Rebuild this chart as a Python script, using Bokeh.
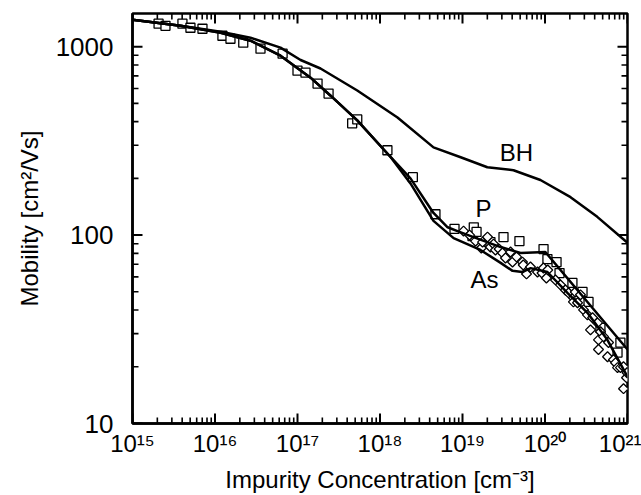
from bokeh.plotting import figure
from bokeh.models import FixedTicker, CustomJSTickFormatter, Label, Range1d
from bokeh.embed import file_html
from bokeh.resources import INLINE
import math

# ---- data ----
bh_x = [1e15, 3.82e15, 1.17e16, 2.69e16, 6.22e16, 1.09e17, 1.9e17, 5.3e17, 1.63e18,
        4.45e18, 9.5e18, 2.0e19, 4.15e19, 8.8e19, 2.04e20, 4.3e20, 1e21]
bh_y = [1390, 1291, 1200, 1116, 988, 850, 766, 585, 421, 292, 259, 229, 221, 196, 159, 125, 91]

p_fit_x = [1e15, 3.82e15, 1.17e16, 2.69e16, 6.22e16, 1.44e17, 2.5e17, 5.3e17, 1.35e18,
           2.34e18, 4.45e18, 6.6e18, 8.7e18, 1.36e19, 2.9e19, 5.05e19, 1.01e20, 1e21]
p_fit_y = [1390, 1291, 1186, 1076, 896, 685, 551, 406, 259, 200, 131, 110, 105, 97.6,
           86.4, 80.4, 81.3, 24.7]

as_fit_x = [1e15, 3.82e15, 1.17e16, 2.69e16, 6.22e16, 1.44e17, 2.5e17, 5.3e17, 1.35e18,
            2.34e18, 4.45e18, 7.8e18, 1.65e19, 2.9e19, 4.04e19, 5.3e19, 6.7e19, 1.07e20,
            1.87e20, 3.27e20, 5.7e20, 1e21]
as_fit_y = [1390, 1291, 1186, 1076, 896, 685, 551, 406, 259, 188, 119, 96.4, 83.4, 71.2,
            64.6, 63.7, 66.8, 63.7, 49.3, 38.7, 27.8, 17.7]

p_data_x = [2.07e15, 2.51e15, 4.03e15, 5.04e15, 7.05e15, 1.23e16, 1.54e16, 2.2e16, 3.56e16,
            6.6e16, 1.0e17, 1.25e17, 1.75e17, 2.38e17, 4.6e17, 5.3e17, 1.23e18, 2.5e18,
            4.7e18, 8.0e18, 1.32e19, 1.37e19, 1.48e19, 2.18e19, 3.14e19, 4.9e19, 9.6e19,
            1.07e20, 1.38e20, 1.5e20, 2.15e20, 2.85e20, 3.37e20, 4.7e20, 7.57e20, 8.2e20]
p_data_y = [1324, 1290, 1324, 1260, 1245, 1143, 1102, 1050, 976, 918, 746, 728, 637, 564,
            392, 411, 282, 203, 129, 108, 98.8, 110, 104, 91.8, 97.6, 92.9, 84.3, 74.6,
            71.9, 62.9, 55.7, 49.9, 44.2, 32.2, 23.8, 26.9]

as_data_x = [1.03e19, 1.22e19, 1.44e19, 1.69e19, 1.75e19, 2.01e19, 2.18e19, 2.38e19, 2.51e19,
             2.78e19, 3.05e19, 3.32e19, 3.82e19, 4.04e19, 4.52e19, 5.33e19, 5.45e19, 5.97e19,
             6.67e19, 8.11e19, 9.2e19, 9.59e19, 1.04e20, 1.08e20, 1.34e20, 1.54e20, 1.77e20,
             1.93e20, 2.21e20, 2.21e20, 2.33e20, 2.48e20, 2.69e20, 2.93e20, 3.27e20, 3.56e20,
             3.77e20, 4.33e20, 4.45e20, 4.71e20, 5.12e20, 4.45e20, 5.73e20, 5.89e20, 6.76e20,
             7.16e20, 7.57e20, 8.22e20, 8.95e20, 9.73e20, 8.95e20, 9.9e20]
as_data_y = [105, 100, 92.9, 85.4, 91.8, 97.6, 86.4, 89.6, 83.3, 84.3, 80.4, 75.6, 81.3, 71.9,
             76.6, 71.9, 69.4, 62.2, 67.7, 63.7, 62.9, 66.9, 59.2, 65.3, 57.8, 54.4, 51.1,
             49.3, 46.5, 44.2, 49.9, 43.7, 48.2, 40.1, 37.7, 31.4, 36.4, 34.2, 27.8, 30.7,
             28.9, 24.7, 22.6, 26.9, 21.8, 21.0, 19.8, 19.8, 20.0, 17.5, 15.3, 18.6]

x_ticks = [1e15, 1e16, 1e17, 1e18, 1e19, 1e20, 1e21]
x_tick_labels = ["10¹⁵", "10¹⁶", "10¹⁷", "10¹⁸", "10¹⁹", "10²⁰", "10²¹"]
y_ticks = [10, 100, 1000]
y_tick_labels = ["10", "100", "1000"]

X_LO, X_HI = 1e15, 1e21
Y_LO, Y_HI = 10, 1500
FONT = "Liberation Sans"

W, H = 641, 495
B_LEFT, B_RIGHT, B_TOP, B_BOTTOM = 132, 14, 13, 71

p = figure(width=W, height=H, x_axis_type="log", y_axis_type="log", title=None,
           x_range=Range1d(X_LO, X_HI), y_range=Range1d(Y_LO, Y_HI),
           output_backend="svg", toolbar_location=None,
           min_border_left=B_LEFT, min_border_right=B_RIGHT,
           min_border_top=B_TOP, min_border_bottom=B_BOTTOM)
p.xgrid.visible = False
p.ygrid.visible = False
p.outline_line_color = "black"
p.outline_line_width = 2.5
p.background_fill_color = "white"
p.border_fill_color = "white"

x_minor = [m * 10.0 ** e for e in range(15, 21) for m in range(2, 10)]
y_minor = [m * 10.0 ** e for e in range(1, 4) for m in range(2, 10) if m * 10.0 ** e < Y_HI]

fmt_code = """
let best = -1;
for (let i = 0; i < tvals.length; i++) {
  if (Math.abs(Math.log10(tvals[i]) - Math.log10(tick)) < 1e-6) { best = i; }
}
return best >= 0 ? labels[best] : "";
"""

def style_axis(ax, ticks, labels):
    ax.ticker = FixedTicker(ticks=ticks, minor_ticks=[])
    ax.formatter = CustomJSTickFormatter(args=dict(tvals=ticks, labels=labels), code=fmt_code)
    ax.axis_line_width = 2.5
    ax.axis_line_color = "black"
    ax.major_tick_in = 0
    ax.major_tick_out = 0
    ax.minor_tick_in = 0
    ax.minor_tick_out = 0
    ax.major_label_text_font = FONT
    ax.major_label_text_font_size = "24px"
    ax.major_label_text_color = "black"
    ax.axis_label_text_font = FONT
    ax.axis_label_text_font_size = "24px"
    ax.axis_label_text_font_style = "normal"
    ax.axis_label_text_color = "black"

style_axis(p.xaxis[0], x_ticks, x_tick_labels)
style_axis(p.yaxis[0], y_ticks, y_tick_labels)
p.xaxis[0].axis_label = "Impurity Concentration [cm⁻³]"
p.yaxis[0].axis_label = "Mobility [cm²/Vs]"
p.xaxis[0].major_label_standoff = 6
p.xaxis[0].axis_label_standoff = 6
p.yaxis[0].major_label_text_font_size = "26px"
p.yaxis[0].major_label_standoff = 19
p.yaxis[0].axis_label_standoff = 10

# inward tick marks on all four sides, drawn as short segments.
# tick length in pixels converted to a multiplicative factor on the log scales
px_per_dec_x = (W - B_LEFT - B_RIGHT) / (math.log10(X_HI) - math.log10(X_LO))
px_per_dec_y = (H - B_TOP - B_BOTTOM) / (math.log10(Y_HI) - math.log10(Y_LO))

def add_ticks(vals, length_px, lw, vertical_axis):
    vals = list(vals)
    n = len(vals)
    if vertical_axis:  # ticks on left/right edges, positions are y values
        f = 10 ** (length_px / px_per_dec_x)
        p.segment(x0=[X_LO] * n + [X_HI] * n, y0=vals + vals,
                  x1=[X_LO * f] * n + [X_HI / f] * n, y1=vals + vals,
                  line_color="black", line_width=lw)
    else:  # ticks on bottom/top edges, positions are x values
        f = 10 ** (length_px / px_per_dec_y)
        p.segment(x0=vals + vals, y0=[Y_LO] * n + [Y_HI] * n,
                  x1=vals + vals, y1=[Y_LO * f] * n + [Y_HI / f] * n,
                  line_color="black", line_width=lw)

add_ticks(x_ticks, 10, 2, False)
add_ticks(x_minor, 6, 1.6, False)
add_ticks(y_ticks, 10, 2, True)
add_ticks(y_minor, 6, 1.6, True)

# data markers
p.scatter(p_data_x, p_data_y, marker="square", size=9, fill_color="white",
          line_color="black", line_width=1.3)
p.scatter(as_data_x, as_data_y, marker="square", size=7, angle=0.785398,
          fill_color="white", line_color="black", line_width=1.3)

# model curves
p.line(bh_x, bh_y, line_color="black", line_width=2.5)
p.line(p_fit_x, p_fit_y, line_color="black", line_width=2.5)
p.line(as_fit_x, as_fit_y, line_color="black", line_width=2.5)

for txt, x, y in [("BH", 4.5e19, 275), ("P", 1.8e19, 139), ("As", 1.85e19, 57.8)]:
    p.add_layout(Label(x=x, y=y, text=txt, text_font=FONT, text_font_size="24px",
                       text_align="center", text_baseline="middle", text_color="black"))

open("out.html", "w").write(file_html(p, INLINE))
